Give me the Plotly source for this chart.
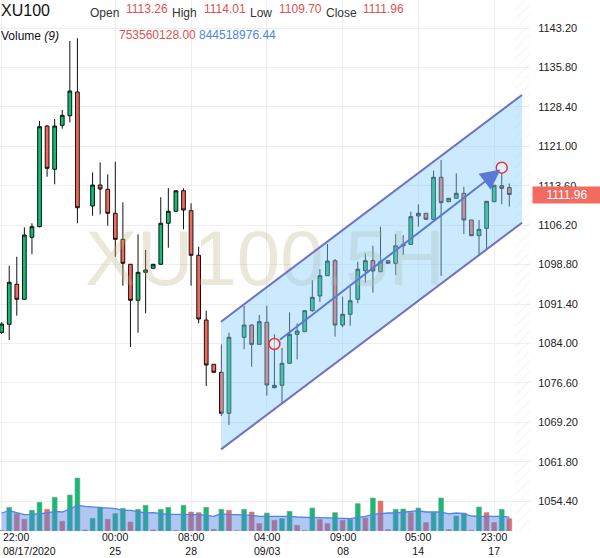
import plotly.graph_objects as go

# ---------------- data ----------------
idx = list(range(68))
opens = [1086.10, 1087.60, 1095.11, 1092.30, 1103.93, 1105.92, 1124.81, 1116.69, 1124.94, 1126.74,
         1131.19, None, 1109.81, 1113.74, 1112.93, 1108.43, 1103.55, 1098.87, 1092.11, 1097.36,
         1098.12, 1098.87, 1106.56, 1108.81, 1112.67, 1108.92, 1100.55, 1088.41, 1080.10, 1078.60,
         1070.91, None, 1085.17, 1087.47, 1083.85, 1087.98, 1075.71, 1076.16, 1080.29, 1085.73,
         1086.22, 1090.16, 1092.92, 1096.72, 1099.54, 1087.47, 1089.48, 1092.30, 1097.66, 1099.54,
         1097.48, 1099.54, 1099.05, 1102.35, 1102.61, 1107.93, 1108.43, 1107.31, 1115.19, 1110.61,
         1111.25, 1112.18, 1107.18, 1104.23, 1105.62, 1110.61, 1113.61, 1113.26]
highs = [1088.00, 1098.60, 1100.29, 1105.81, 1106.56, 1125.75, 1125.00, 1126.12, 1127.82, 1140.76,
         1141.27, None, 1116.12, 1118.00, 1115.75, 1118.11, 1110.50, 1098.90, 1104.49, 1101.55,
         1098.90, 1111.44, 1113.18, 1112.70, 1113.10, 1110.31, 1102.17, 1090.16, 1080.10, 1083.85,
         1086.03, None, 1091.10, 1087.60, 1089.35, 1091.10, 1085.73, 1083.16, 1089.86, 1087.79,
         1090.20, 1095.92, 1097.98, 1102.67, 1099.86, 1092.79, 1094.66, 1099.35, 1100.93, 1102.35,
         1105.92, 1099.60, 1104.55, 1104.36, 1108.73, 1110.12, 1108.50, 1116.43, 1118.43, 1111.30,
         1115.94, 1113.42, 1107.20, 1107.18, 1110.70, 1113.70, 1115.94, 1114.01]
lows = [1085.80, 1084.66, 1089.22, 1092.20, 1100.74, 1105.80, 1115.30, 1113.87, 1124.30, 1125.50,
        1106.56, None, 1107.98, 1108.24, 1106.10, 1100.29, 1094.85, 1083.35, 1086.03, 1089.67,
        1098.10, 1098.80, 1101.98, 1108.80, 1105.43, 1094.85, 1087.80, 1076.03, 1078.60, 1070.40,
        1068.71, None, 1082.92, 1079.65, 1083.80, 1074.21, 1075.60, 1072.65, 1080.20, 1081.04,
        1086.20, 1089.97, 1091.84, 1096.70, 1085.28, 1087.05, 1087.34, 1091.55, 1095.41, 1093.54,
        1097.37, 1099.00, 1096.86, 1100.61, 1102.50, 1105.92, 1107.25, 1107.20, 1096.67, 1110.55,
        1111.20, 1104.55, 1104.20, 1100.42, 1101.68, 1110.55, 1110.12, 1109.70]
closes = [1087.66, 1095.49, 1092.30, 1104.36, 1105.92, 1124.68, 1116.87, 1124.81, 1126.82, 1131.38,
          1109.48, None, 1113.74, 1112.99, 1108.43, 1103.55, 1099.05, 1092.11, 1097.36, 1097.80,
          1098.87, 1106.56, 1108.81, 1112.67, 1109.05, 1100.55, 1088.60, 1079.97, 1078.60, 1070.91,
          1085.17, None, 1087.47, 1083.85, 1088.10, 1076.22, 1076.16, 1080.29, 1085.73, 1086.35,
          1090.16, 1092.67, 1096.72, 1099.48, 1087.47, 1089.48, 1092.03, 1097.93, 1099.54, 1097.61,
          1099.35, 1099.05, 1102.35, 1102.61, 1107.80, 1108.43, 1107.31, 1115.19, 1110.42, 1111.25,
          1112.18, 1107.18, 1104.23, 1105.43, 1110.68, 1113.69, 1113.12, 1111.96]
# volume in millions
volume_m = [40, 1445, 1061, 714, 1263, 1751, 1324, 2056, 592, 2196,
            3233, 61, 775, 1445, 714, 1061, 1385, 549, 1324, 1568,
            61, 1324, 1445, 30, 1568, 1159, 1122, 1445, 104, 1324,
            1263, 20, 1324, 1159, 451, 1098, 653, 756, 1202, 348,
            20, 1403, 695, 451, 1122, 653, 714, 1671, 793, 2013,
            1830, 85, 1324, 1342, 1122, 1403, 512, 1122, 2013, 85,
            915, 1098, 40, 1464, 1122, 512, 1324, 753.56]
# volume moving average (9) in millions
volume_ma_m = [1098, 1245, 1122, 1000, 1020, 1061, 1098, 1200, 1159, 1342,
               1568, 1505, 1464, 1445, 1403, 1364, 1263, 1263, 1183, 1098,
               1122, 1061, 1020, 1020, 1020, 1020, 1000, 958, 897, 1061,
               1000, 1000, 1000, 958, 897, 897, 939, 915, 897, 854,
               817, 817, 817, 817, 817, 775, 756, 817, 897, 1020,
               1080, 1098, 1098, 1159, 1200, 1245, 1159, 1159, 1159, 1040,
               1098, 1061, 915, 897, 915, 897, 897, 844.52]

price_ticks = [1054.40, 1061.80, 1069.20, 1076.60, 1084.00, 1091.40, 1098.80,
               1106.20, 1113.60, 1121.00, 1128.40, 1135.80, 1143.20]
date_tick_idx = [15, 25, 35, 45, 55, 65]
date_tick_top = ["00:00", "08:00", "04:00", "09:00", "05:00", "23:00"]
date_tick_bot = ["25", "28", "09/03", "08", "14", "17"]
first_tick_idx = 0
first_tick_top, first_tick_bot = "22:00", "08/17/2020"

# channel drawing (anchor points, x in candle index, y in price)
channel_x = [28.95, 68.68]
channel_upper = [1088.09, 1130.63]
channel_lower = [1064.13, 1106.67]
trend_x = [36, 65.84]
trend_y = [1083.91, 1116.65]
marker_x = [36, 66]
marker_y = [1083.91, 1117.0]

last_vals = {"Open": 1113.26, "High": 1114.01, "Low": 1109.70, "Close": 1111.96}
last_volume = "753560128.00"
last_volume_ma = "844518976.44"

# ---------------- styling ----------------
GREEN = "#0cbf72"
RED = "#f4675c"
GRID = "#eeeeee"
FONT = "Liberation Sans, Arial, sans-serif"
PLOT_W, PLOT_H = 530, 531
x_lo, x_hi = -0.2164, 69.73
y_lo, y_hi = 1048.824, 1148.454
VOL_PER_PX = 61.0  # millions per pixel


def px(x):
    return x / PLOT_W


def py(y):
    return 1 - y / PLOT_H


fig = go.Figure()

# watermark (behind candles)
fig.add_trace(go.Scatter(
    x=[(x_lo + x_hi) / 2], y=[(y_lo + y_hi) / 2], mode="text", text=["XU100.5H"],
    textfont=dict(family=FONT, size=78, color="rgba(190,175,130,0.30)"),
    hoverinfo="skip"))

# hatched future area
hx0 = 67.75
fig.add_trace(go.Scatter(
    x=[hx0, x_hi, x_hi, hx0, hx0], y=[y_lo, y_lo, y_hi, y_hi, y_lo],
    mode="lines", line=dict(width=0), fill="toself",
    fillcolor="rgba(255,255,255,0)",
    fillpattern=dict(shape="/", size=7, solidity=0.12, fgcolor="#dcdcdc"),
    hoverinfo="skip"))

valid = [i for i in idx if opens[i] is not None]
fig.add_trace(go.Candlestick(
    x=[idx[i] for i in valid],
    open=[opens[i] for i in valid], high=[highs[i] for i in valid],
    low=[lows[i] for i in valid], close=[closes[i] for i in valid],
    increasing=dict(line=dict(color="#111111", width=1), fillcolor=GREEN),
    decreasing=dict(line=dict(color="#111111", width=1), fillcolor=RED),
    whiskerwidth=0, hoverinfo="skip"))

# channel fill + lines
fig.add_trace(go.Scatter(
    x=[channel_x[0], channel_x[1], channel_x[1], channel_x[0], channel_x[0]],
    y=[channel_upper[0], channel_upper[1], channel_lower[1], channel_lower[0], channel_upper[0]],
    mode="lines", line=dict(width=0), fill="toself",
    fillcolor="rgba(135,206,250,0.43)", hoverinfo="skip"))
for ys in (channel_upper, channel_lower):
    fig.add_trace(go.Scatter(x=channel_x, y=ys, mode="lines",
                             line=dict(color="#6d70c4", width=2), hoverinfo="skip"))

fig.add_trace(go.Scatter(
    x=marker_x, y=marker_y, mode="markers",
    marker=dict(symbol="circle", size=11, color="rgba(255,255,255,0.45)",
                line=dict(color="#ee3030", width=1.5)),
    hoverinfo="skip"))

# volume
vol_colors = [GREEN if i > 0 and volume_m[i] > volume_m[i - 1] else RED for i in idx]
fig.add_trace(go.Bar(
    x=idx, y=volume_m, yaxis="y2", width=0.64,
    marker=dict(color=vol_colors, line=dict(color="rgba(150,150,150,0.6)", width=1)),
    hoverinfo="skip"))
fig.add_trace(go.Scatter(
    x=idx, y=volume_ma_m, yaxis="y2", mode="lines", fill="tozeroy",
    line=dict(color="#4f84e6", width=1.3), fillcolor="rgba(80,130,230,0.45)",
    hoverinfo="skip"))

# arrow
fig.add_annotation(
    x=trend_x[1], y=trend_y[1], ax=trend_x[0], ay=trend_y[0],
    xref="x", yref="y", axref="x", ayref="y", text="",
    showarrow=True, arrowhead=2, arrowsize=2.0, arrowwidth=2,
    arrowcolor="rgb(88,122,212)", standoff=0, startstandoff=5)

# header
def ann(text, x, y, color, size=12, anchor="left"):
    fig.add_annotation(text=text, x=px(x), y=py(y), xref="paper", yref="paper",
                       xanchor=anchor, yanchor="middle", showarrow=False, borderpad=0,
                       font=dict(family=FONT, size=size, color=color))

ann("XU100", 0, 11, "#111111", size=16)
lab_x = {"Open": 88.8, "High": 171, "Low": 249, "Close": 325}
num_x = {"Open": 124.8, "High": 203, "Low": 278, "Close": 362}
for k, v in last_vals.items():
    ann(k, lab_x[k], 13, "#333333")
    ann(f"{v:.2f}", num_x[k], 9, "#d9534f")
ann("Volume <i>(9)</i>", 0, 36, "#111111")
ann(last_volume, 117.5, 35, "#d9534f")
ann(last_volume_ma, 197.9, 35, "#4a86e8")

# last price tag
fig.add_annotation(text=f"{closes[-1]:.2f}", x=px(532), y=closes[-1], xref="paper", yref="y",
                   xanchor="left", yanchor="middle", showarrow=False,
                   bgcolor="#f26b60", borderpad=2, width=64, height=12,
                   font=dict(family=FONT, size=12, color="white"))

# date labels (two lines per label)
DATE_FONT = dict(family=FONT, size=10.5, color="#111111")
for xi, t, b in zip(date_tick_idx, date_tick_top, date_tick_bot):
    fig.add_annotation(text=f"{t}<br>{b}", x=xi, y=py(544), xref="x", yref="paper",
                       xanchor="center", yanchor="middle", showarrow=False, borderpad=0,
                       font=DATE_FONT)
fig.add_annotation(text=f"{first_tick_top}<br>{first_tick_bot}", x=px(2), y=py(544),
                   xref="paper", yref="paper", xanchor="left", yanchor="middle",
                   align="left", showarrow=False, borderpad=0, font=DATE_FONT)

fig.update_layout(
    width=600, height=558, margin=dict(l=0, r=70, t=0, b=27),
    paper_bgcolor="white", plot_bgcolor="white", showlegend=False,
    boxgap=0.3,
    xaxis=dict(range=[x_lo, x_hi], tickvals=[first_tick_idx] + date_tick_idx,
               showticklabels=False, showgrid=True, gridcolor=GRID, zeroline=False,
               showline=False, ticks="", rangeslider=dict(visible=False), fixedrange=True),
    yaxis=dict(range=[y_lo, y_hi], side="right", tickvals=price_ticks,
               ticktext=[f"{v:.2f}" for v in price_ticks], showgrid=True, gridcolor=GRID,
               zeroline=False, showline=False, ticks="outside", ticklen=5,
               tickcolor="rgba(0,0,0,0)",
               tickfont=dict(family=FONT, size=11, color="#222222"), fixedrange=True),
    yaxis2=dict(overlaying="y", range=[0, PLOT_H * VOL_PER_PX], visible=False,
                fixedrange=True),
)

fig.write_html("out.html")
